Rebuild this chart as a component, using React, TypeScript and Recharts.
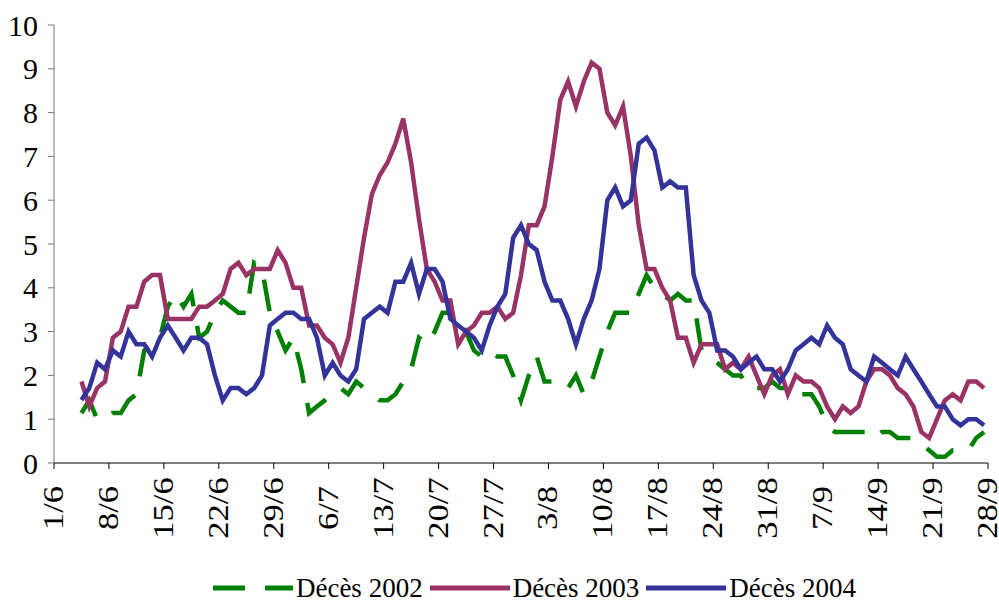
import React from 'react';
import { LineChart, Line, XAxis, YAxis, Legend } from 'recharts';

// 7-day average of daily deaths, one value per day from 4/6 to 28/9
const deces2002 = [
  1.14, 1.43, 1.0, 1.0, 1.14, 1.14, 1.43, 1.57, 2.57, 2.71, 2.86, 3.57, 3.86, 3.57, 3.86, 2.86,
  3.0, 3.43, 3.71, 3.57, 3.43, 3.43, 4.57, 4.43, 3.43, 3.0, 2.57, 2.86, 2.14, 1.14, 1.29, 1.43,
  1.57, 1.71, 1.57, 1.86, 1.71, 1.57, 1.43, 1.43, 1.57, 1.86, 2.14, 2.86, 2.71, 3.0, 3.43, 3.43,
  3.29, 3.0, 2.57, 2.43, 2.57, 2.43, 2.43, 2.0, 1.43, 2.0, 2.43, 1.86, 1.86, 1.86, 1.71, 2.0,
  1.57, 1.86, 2.43, 3.0, 3.43, 3.43, 3.43, 3.86, 4.29, 4.0, 3.86, 3.71, 3.86, 3.71, 3.71, 2.57,
  2.43, 2.29, 2.14, 2.0, 2.0, 1.71, 1.71, 1.71, 1.86, 1.71, 1.71, 1.57, 1.57, 1.57, 1.29, 0.86,
  0.71, 0.71, 0.71, 0.71, 0.71, 0.57, 0.71, 0.71, 0.57, 0.57, 0.57, 0.43, 0.29, 0.14, 0.14, 0.29,
  0.29, 0.29, 0.57, 0.71,
];

const deces2003 = [
  1.86, 1.29, 1.71, 1.86, 2.86, 3.0, 3.57, 3.57, 4.14, 4.29, 4.29, 3.29, 3.29, 3.29, 3.29, 3.57,
  3.57, 3.71, 3.86, 4.43, 4.57, 4.29, 4.43, 4.43, 4.43, 4.86, 4.57, 4.0, 4.0, 3.14, 3.14, 2.86,
  2.71, 2.29, 2.86, 4.0, 5.14, 6.14, 6.57, 6.86, 7.29, 7.86, 6.86, 5.57, 4.43, 4.14, 3.71, 3.71,
  2.71, 3.0, 3.14, 3.43, 3.43, 3.57, 3.29, 3.43, 4.29, 5.43, 5.43, 5.86, 7.0, 8.29, 8.71, 8.14,
  8.71, 9.14, 9.0, 8.0, 7.71, 8.14, 7.0, 5.43, 4.43, 4.43, 4.0, 3.71, 2.86, 2.86, 2.29, 2.71,
  2.71, 2.71, 2.14, 2.29, 2.14, 2.43, 2.0, 1.57, 2.0, 2.14, 1.57, 2.0, 1.86, 1.86, 1.71, 1.29,
  1.0, 1.29, 1.14, 1.29, 1.86, 2.14, 2.14, 2.0, 1.71, 1.57, 1.29, 0.71, 0.57, 1.0, 1.43, 1.57,
  1.43, 1.86, 1.86, 1.71,
];

const deces2004 = [
  1.44, 1.71, 2.29, 2.14, 2.57, 2.43, 3.0, 2.71, 2.71, 2.43, 2.86, 3.14, 2.86, 2.57, 2.86, 2.86,
  2.71, 2.0, 1.43, 1.71, 1.71, 1.57, 1.71, 2.0, 3.14, 3.29, 3.43, 3.43, 3.29, 3.29, 2.86, 2.0,
  2.29, 2.0, 1.86, 2.14, 3.29, 3.43, 3.57, 3.43, 4.14, 4.14, 4.57, 3.86, 4.43, 4.43, 4.14, 3.29,
  3.14, 3.0, 2.86, 2.57, 3.14, 3.57, 3.86, 5.14, 5.43, 5.0, 4.86, 4.14, 3.71, 3.71, 3.29, 2.71,
  3.29, 3.71, 4.43, 6.0, 6.29, 5.86, 6.0, 7.29, 7.43, 7.14, 6.29, 6.43, 6.29, 6.29, 4.29, 3.71,
  3.43, 2.57, 2.57, 2.43, 2.14, 2.29, 2.43, 2.14, 2.14, 1.86, 2.14, 2.57, 2.71, 2.86, 2.71, 3.14,
  2.86, 2.71, 2.14, 2.0, 1.86, 2.43, 2.29, 2.14, 2.0, 2.43, 2.14, 1.86, 1.57, 1.29, 1.29, 1.0,
  0.86, 1.0, 1.0, 0.86,
];

const dateLabels = ['1/6', '8/6', '15/6', '22/6', '29/6', '6/7', '13/7', '20/7', '27/7',
  '3/8', '10/8', '17/8', '24/8', '31/8', '7/9', '14/9', '21/9', '28/9'];
const yTicks = [0, 1, 2, 3, 4, 5, 6, 7, 8, 9, 10];

const FIRST_DAY = 3; // 4/6, counted from 1/6
const tickDays = dateLabels.map((_, k) => k * 7);

// each daily value sits in the middle of its day
const data = deces2002.map((v, i) => ({
  day: FIRST_DAY + i + 0.5,
  d2002: v,
  d2003: deces2003[i],
  d2004: deces2004[i],
}));

const FONT = '"Liberation Serif", "Times New Roman", serif';

const DateTick = (props: any) => {
  const { x, y, payload } = props;
  const label = dateLabels[Math.round(payload.value / 7)];
  return (
    <text
      transform={`translate(${x},${y + 37}) rotate(-90) scale(1.15,1)`}
      textAnchor="middle"
      dy="0.3em"
      fontSize={30}
      fontFamily={FONT}
      fill="#000"
    >
      {label}
    </text>
  );
};

const LegendContent = (props: any) => {
  const { payload } = props;
  return (
    <div style={{ height: 58, display: 'flex', justifyContent: 'center', alignItems: 'flex-end', paddingLeft: 88 }}>
      {payload.map((entry: any) => (
        <div key={entry.value} style={{ display: 'flex', alignItems: 'center', marginRight: 7, height: 26 }}>
          <svg width={80} height={10} style={{ marginRight: 3 }}>
            <line
              x1={0} y1={5} x2={80} y2={5}
              stroke={entry.color}
              strokeWidth={5}
              strokeDasharray={entry.payload?.strokeDasharray}
            />
          </svg>
          <span style={{ fontFamily: FONT, fontSize: 27, color: '#000' }}>{entry.value}</span>
        </div>
      ))}
    </div>
  );
};

export default function App() {
  return (
    <div style={{ position: 'absolute', left: 0, top: 0, background: '#fff' }}>
      <LineChart width={999} height={601} data={data} margin={{ top: 25, right: 11, bottom: 0, left: 0 }}>
        <XAxis
          dataKey="day"
          type="number"
          domain={[0, 119]}
          ticks={tickDays}
          interval={0}
          height={80}
          tickSize={6}
          stroke="#000"
          tick={<DateTick />}
        />
        <YAxis
          type="number"
          domain={[0, 10]}
          ticks={yTicks}
          interval={0}
          width={54}
          tickSize={6}
          tickMargin={10}
          stroke="#777"
          tick={{ fill: '#000', fontSize: 30, fontFamily: FONT }}
        />
        <Legend verticalAlign="bottom" content={<LegendContent />} />
        <Line
          name="Décès 2002"
          dataKey="d2002"
          type="linear"
          stroke="#008000"
          strokeWidth={4.5}
          strokeDasharray="32 20"
          dot={false}
          isAnimationActive={false}
        />
        <Line
          name="Décès 2003"
          dataKey="d2003"
          type="linear"
          stroke="#993366"
          strokeWidth={4.5}
          dot={false}
          isAnimationActive={false}
        />
        <Line
          name="Décès 2004"
          dataKey="d2004"
          type="linear"
          stroke="#333399"
          strokeWidth={4.5}
          dot={false}
          isAnimationActive={false}
        />
      </LineChart>
    </div>
  );
}
